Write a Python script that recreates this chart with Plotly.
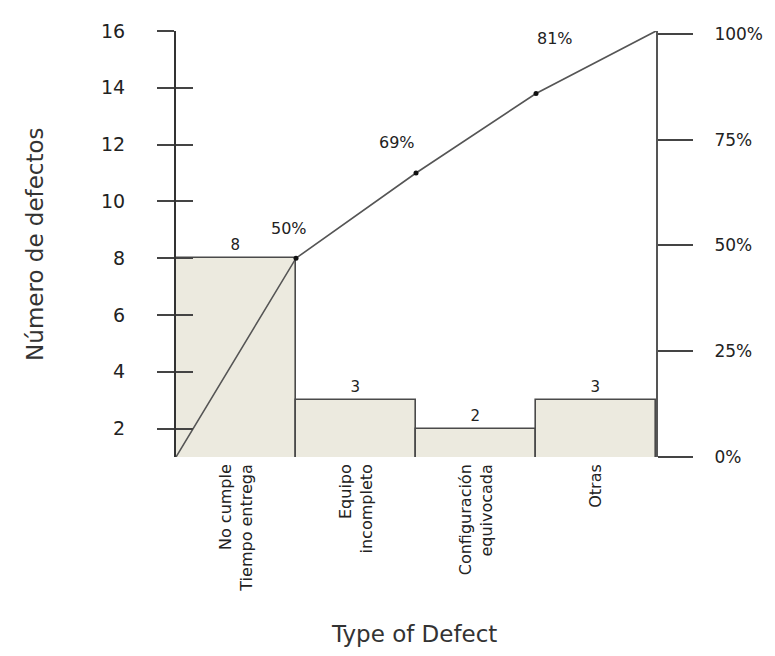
import plotly.graph_objects as go

categories = ["No cumple<br>Tiempo entrega", "Equipo<br>incompleto",
              "Configuración<br>equivocada", "Otras"]
defects = [8, 3, 2, 3]
# cumulative line as drawn (counts on left axis, starting at the axis base)
cum_x = [0, 1, 2, 3, 4]
cum_y = [1, 8, 11, 13.8, 16]
cum_pct_labels = ["50%", "69%", "81%"]
left_ticks = [2, 4, 6, 8, 10, 12, 14, 16]
right_ticks = [0, 25, 50, 75, 100]
right_ticktext = ["0%", "25%", "50%", "75%", "100%"]
n_total = 16

FONT = "DejaVu Sans"
bar_x = [i + 0.5 for i in range(len(categories))]

fig = go.Figure()
fig.add_trace(go.Bar(
    x=bar_x, y=defects, width=1,
    marker=dict(color="#ECEADF", line=dict(color="#4a4a4a", width=1.6)),
    text=[str(v) for v in defects], textposition="outside",
    textfont=dict(family=FONT, size=15, color="#222"),
    cliponaxis=False, showlegend=False,
))
fig.add_trace(go.Scatter(
    x=cum_x, y=cum_y, mode="lines",
    line=dict(color="#555", width=1.6), showlegend=False,
))
fig.add_trace(go.Scatter(
    x=cum_x[1:-1], y=cum_y[1:-1], mode="markers",
    marker=dict(color="#111", size=5), showlegend=False,
))
# invisible traces for the extra axes
fig.add_trace(go.Scatter(x=[0], y=[0], yaxis="y2", mode="markers",
                         marker=dict(opacity=0), showlegend=False, hoverinfo="skip"))
fig.add_trace(go.Scatter(x=[0], y=[1], yaxis="y3", mode="markers",
                         marker=dict(opacity=0), showlegend=False, hoverinfo="skip"))

shifts = [(-7, 30), (-19, 31), (19, 55)]
for i, lab in enumerate(cum_pct_labels):
    fig.add_annotation(x=cum_x[i + 1], y=cum_y[i + 1], text=lab, showarrow=False,
                       xshift=shifts[i][0], yshift=shifts[i][1],
                       font=dict(family=FONT, size=16, color="#222"))
fig.add_annotation(x=0.51, y=16.05, text=f"n = {n_total}", showarrow=False,
                   font=dict(family=FONT, size=15, color="#222"))
fig.add_annotation(xref="paper", yref="paper", x=-0.294, y=0.5, text="Número de defectos",
                   textangle=-90, showarrow=False, xanchor="center", yanchor="middle",
                   font=dict(family=FONT, size=23, color="#333"))
fig.add_annotation(xref="paper", yref="paper", x=0.495, y=-0.416, text="Type of Defect",
                   showarrow=False, xanchor="center", yanchor="middle",
                   font=dict(family=FONT, size=23, color="#333"))

fig.update_layout(
    width=775, height=656,
    margin=dict(l=168, r=127, t=14, b=207),
    paper_bgcolor="white", plot_bgcolor="white",
    bargap=0,
    xaxis=dict(range=[0, 4], tickvals=bar_x, ticktext=categories, tickangle=-90,
               showgrid=False, zeroline=False, showline=False, ticks="",
               ticklabelstandoff=3,
               tickfont=dict(family=FONT, size=16, color="#222")),
    yaxis=dict(range=[1, 16], tickvals=left_ticks, showgrid=False, zeroline=False,
               showline=True, linecolor="#333", linewidth=2,
               ticks="outside", ticklen=17, tickwidth=1.5, tickcolor="#444",
               ticklabelstandoff=28,
               tickfont=dict(family=FONT, size=19, color="#222")),
    yaxis3=dict(range=[1, 16], tickvals=left_ticks, overlaying="y", side="left",
                showgrid=False, zeroline=False, showline=False, showticklabels=False,
                ticks="inside", ticklen=17, tickwidth=1.5, tickcolor="#444"),
    yaxis2=dict(range=[0, 100.7], tickvals=right_ticks, ticktext=right_ticktext,
                overlaying="y", side="right", showgrid=False, zeroline=False,
                showline=True, linecolor="#555", linewidth=2,
                ticks="outside", ticklen=35, tickwidth=1.5, tickcolor="#444",
                ticklabelstandoff=18,
                tickfont=dict(family=FONT, size=17, color="#222")),
)

fig.write_html("out.html")
